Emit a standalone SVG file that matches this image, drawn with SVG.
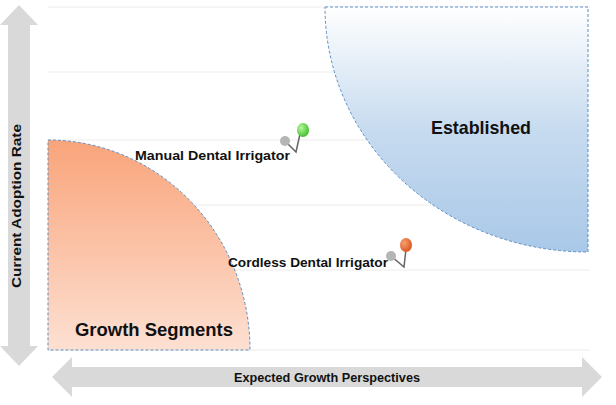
<svg xmlns="http://www.w3.org/2000/svg" width="616" height="405" viewBox="0 0 616 405">
<defs>
<linearGradient id="og" x1="0" y1="0" x2="0" y2="1"><stop offset="0" stop-color="#f9a47a"/><stop offset="1" stop-color="#fde0d2"/></linearGradient>
<linearGradient id="bg" x1="0" y1="0" x2="0" y2="1"><stop offset="0" stop-color="#ffffff"/><stop offset="0.5" stop-color="#c7dbef"/><stop offset="1" stop-color="#a9c8e8"/></linearGradient>
<radialGradient id="gg" cx="0.35" cy="0.35" r="0.7"><stop offset="0" stop-color="#b9f59a"/><stop offset="1" stop-color="#3cbf2a"/></radialGradient>
<radialGradient id="rg" cx="0.35" cy="0.35" r="0.7"><stop offset="0" stop-color="#f8a070"/><stop offset="1" stop-color="#d9541e"/></radialGradient>
</defs>
<style>
.grid{stroke:#ececec;stroke-width:1}
.reg{stroke:#5b8fc5;stroke-width:1;stroke-dasharray:3,2}
.arr{fill:#d9d9d9}
.t{font-family:"Liberation Sans",Arial,sans-serif;font-weight:bold;fill:#111}
.pin{stroke:#666;stroke-width:1.5;fill:none}
</style>
<rect width="616" height="405" fill="#fff"/>
<g id="grid">
<line class="grid" x1="48" y1="7" x2="590" y2="7"/>
<line class="grid" x1="48" y1="72" x2="590" y2="72"/>
<line class="grid" x1="48" y1="140" x2="590" y2="140"/>
<line class="grid" x1="48" y1="205" x2="590" y2="205"/>
<line class="grid" x1="48" y1="270" x2="590" y2="270"/>
<line class="grid" x1="48" y1="350" x2="590" y2="350"/>
</g>
<g id="axes">
<polygon class="arr" points="19,5 38,25 30,25 30,346 38,346 19,366 0,346 8,346 8,25 0,25"/>
<polygon class="arr" points="52,377 72,357 72,367 582,367 582,357 602,377 582,397 582,387 72,387 72,397"/>
<text class="t" x="327" y="382" font-size="12" text-anchor="middle" textLength="186" lengthAdjust="spacingAndGlyphs">Expected Growth Perspectives</text>
<text class="t" x="0" y="0" font-size="12" text-anchor="middle" transform="translate(21,206) rotate(-90)" textLength="164" lengthAdjust="spacingAndGlyphs">Current Adoption Rate</text>
</g>
<g id="growth">
<path class="reg" fill="url(#og)" d="M48,140 A202,210 0 0 1 250,350 L48,350 Z"/>
<text class="t" x="75" y="336" font-size="19" textLength="158" lengthAdjust="spacingAndGlyphs">Growth Segments</text>
</g>
<g id="established">
<path class="reg" fill="url(#bg)" d="M325,7 L588,7 L588,252 A263,245 0 0 1 325,7 Z"/>
<text class="t" x="481" y="134" font-size="19" text-anchor="middle" textLength="100" lengthAdjust="spacingAndGlyphs">Established</text>
</g>
<g id="manual">
<polyline class="pin" points="285,141 296,152 300,134"/>
<circle cx="285" cy="141" r="5" fill="#b5b5b5"/>
<ellipse cx="303" cy="130" rx="6" ry="7" fill="url(#gg)"/>
<text class="t" x="135" y="160" font-size="13" textLength="155" lengthAdjust="spacingAndGlyphs">Manual Dental Irrigator</text>
</g>
<g id="cordless">
<polyline class="pin" points="391,256 404,267 406,249"/>
<circle cx="391" cy="256" r="5" fill="#b5b5b5"/>
<ellipse cx="406" cy="245" rx="6" ry="7" fill="url(#rg)"/>
<text class="t" x="228" y="267" font-size="13" textLength="160" lengthAdjust="spacingAndGlyphs">Cordless Dental Irrigator</text>
</g>
</svg>
